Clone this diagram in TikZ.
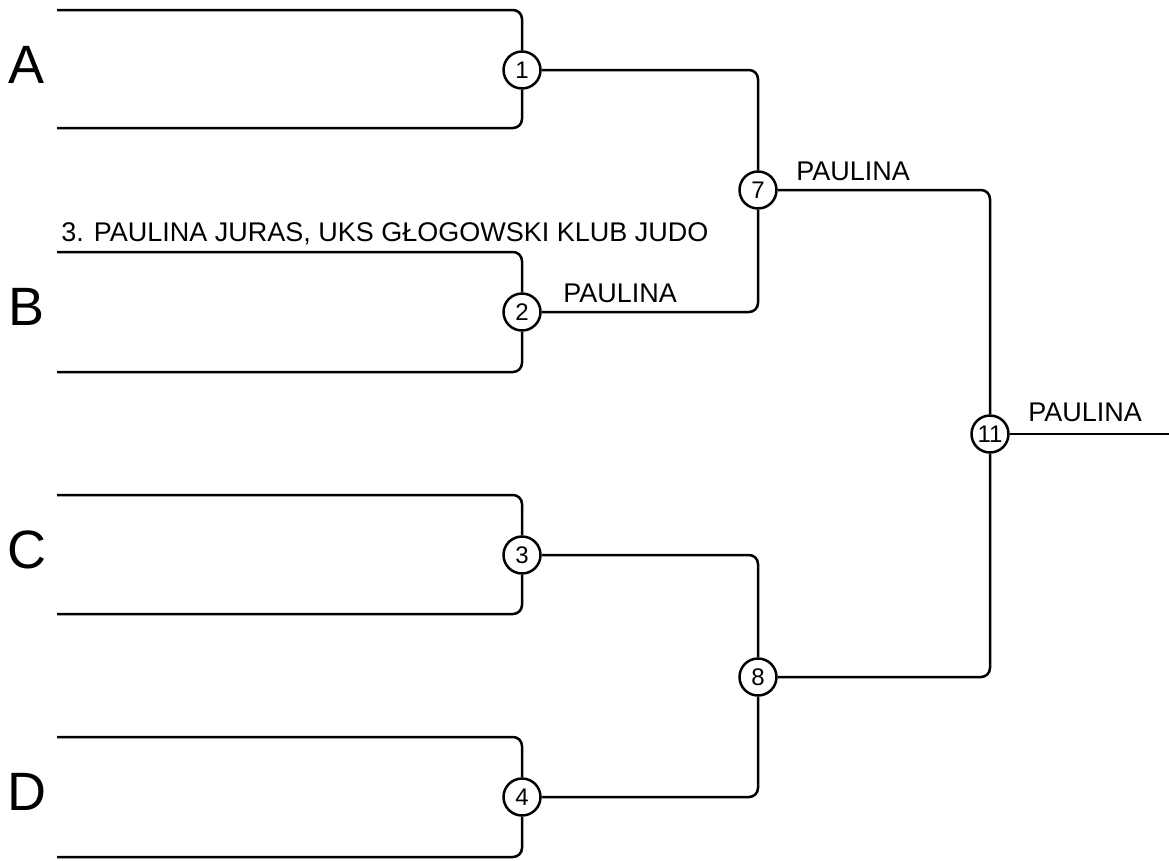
\documentclass[tikz,border=0pt]{standalone}
\usepackage{fontspec}
\setmainfont{Liberation Sans}
\usetikzlibrary{positioning}

\begin{document}
\begin{tikzpicture}[x=1pt,y=-1pt,line width=2.5pt,rounded corners=9pt,
  main node/.style={circle,draw,fill=white,minimum size=37pt,inner sep=0pt,
    rounded corners=0pt,font=\fontsize{24}{26}\selectfont},
  name node/.style={anchor=base west,inner sep=0pt,font=\fontsize{27}{30}\selectfont},
  pool node/.style={inner sep=0pt,font=\fontsize{54}{58}\selectfont}]

  \useasboundingbox (0,0) rectangle (1169,860);

  % bracket ends
  \coordinate (tA) at (57,10);  \coordinate (bA) at (57,128);
  \coordinate (tB) at (57,252); \coordinate (bB) at (57,372);
  \coordinate (tC) at (57,495); \coordinate (bC) at (57,614);
  \coordinate (tD) at (57,737); \coordinate (bD) at (57,857);
  \coordinate (out) at (1169,434);

  % fights
  \node[main node] (1) at (522,70) {1};
  \node[main node] (2) at (522,312) {2};
  \node[main node] (3) at (522,555) {3};
  \node[main node] (4) at (522,797) {4};
  \node[main node] (7) at (758,190) {7};
  \node[main node] (8) at (758,677) {8};
  \node[main node] (11) at (990,434) {11};

  % pools
  \node[pool node] (A) at (27,65) {A};
  \node[pool node] (B) at (27,307) {B};
  \node[pool node] (C) at (27,550) {C};
  \node[pool node] (D) at (27,792) {D};

  \draw (tA) -| (1); \draw (bA) -| (1);
  \draw (tB) -| (2); \draw (bB) -| (2);
  \draw (tC) -| (3); \draw (bC) -| (3);
  \draw (tD) -| (4); \draw (bD) -| (4);
  \draw (1) -| (7); \draw (2) -| (7);
  \draw (3) -| (8); \draw (4) -| (8);
  \draw (7) -| (11); \draw (8) -| (11);
  \draw (11) -- (out);

  % names
  \node[name node] (n3) at (60,241) {3. PAULINA JURAS, UKS GŁOGOWSKI KLUB JUDO};
  \node[name node] (w2) at (562,302) {PAULINA};
  \node[name node] (w7) at (795,180) {PAULINA};
  \node[name node] (w11) at (1027,421) {PAULINA};
\end{tikzpicture}
\end{document}
